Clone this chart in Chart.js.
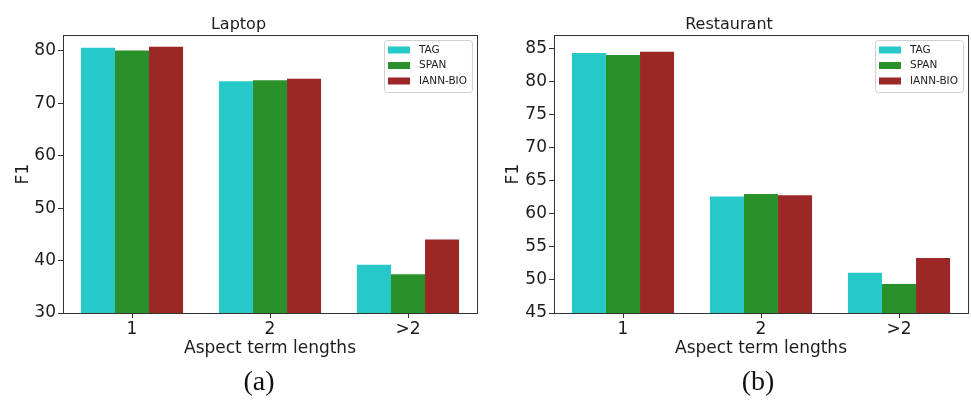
<!DOCTYPE html>
<html>
<head>
<meta charset="utf-8">
<script src="https://cdn.jsdelivr.net/npm/chart.js@4.4.0/dist/chart.umd.min.js"></script>
<style>
  html, body { margin: 0; padding: 0; background: #fff; }
  #wrap { position: relative; width: 971px; height: 400px; overflow: hidden; }
  .panel { position: absolute; top: 0; height: 400px; }
  .caption {
    position: absolute; top: 365px; line-height: 32px;
    font-family: "Liberation Serif", "Times New Roman", serif;
    font-size: 28px; color: #111; transform: translateX(-50%);
  }
</style>
</head>
<body>
<div id="wrap">
  <div class="panel" style="left:0;width:490px"><canvas id="laptopChart"></canvas></div>
  <div class="panel" style="left:490px;width:481px"><canvas id="restChart"></canvas></div>
  <div class="caption" style="left:259px">(a)</div>
  <div class="caption" style="left:758px">(b)</div>
</div>
<script>
// DATA
const categories = ['1', '2', '>2'];
const seriesNames = ['TAG', 'SPAN', 'IANN-BIO'];
const seriesColors = ['#27c8c8', '#29902a', '#9c2727'];

const laptopTag = [80.6, 74.2, 39.2];
const laptopSpan = [80.1, 74.4, 37.4];
const laptopIann = [80.8, 74.7, 44.0];
const laptopTicks = [30, 40, 50, 60, 70, 80];

const restTag = [84.3, 62.6, 51.1];
const restSpan = [84.0, 63.0, 49.4];
const restIann = [84.5, 62.8, 53.3];
const restTicks = [45, 50, 55, 60, 65, 70, 75, 80, 85];

const FONT = '"DejaVu Sans", sans-serif';
const INK = '#1c1c1c';

// frame round the plot area (matplotlib spines)
const frame = {
  id: 'frame',
  afterDatasetsDraw(chart) {
    const { ctx, chartArea: a } = chart;
    ctx.save();
    ctx.strokeStyle = '#333';
    ctx.lineWidth = 1;
    ctx.strokeRect(Math.round(a.left) + 0.5, Math.round(a.top) + 0.5,
      Math.round(a.right - a.left), Math.round(a.bottom - a.top));
    ctx.restore();
  }
};

// legend box inside the plot, top right
const boxLegend = {
  id: 'boxLegend',
  afterDraw(chart) {
    const { ctx, chartArea } = chart;
    ctx.save();
    ctx.font = '10.5px ' + FONT;
    const labels = chart.data.datasets.map(d => d.label);
    const textW = Math.max(...labels.map(l => ctx.measureText(l).width));
    const w = 4 + 22 + 9 + textW + 5;
    const h = 52;
    const x = Math.round(chartArea.right - 5 - w);
    const y = Math.round(chartArea.top + 5);
    ctx.fillStyle = 'rgba(255,255,255,0.85)';
    ctx.strokeStyle = '#d0d0d0';
    ctx.beginPath();
    ctx.roundRect(x + 0.5, y + 0.5, w, h, 3);
    ctx.fill();
    ctx.stroke();
    chart.data.datasets.forEach((ds, i) => {
      const cy = y + 10 + i * 15.5;
      ctx.fillStyle = ds.backgroundColor;
      ctx.fillRect(x + 4, cy - 3.5, 22, 7);
      ctx.fillStyle = INK;
      ctx.textBaseline = 'middle';
      ctx.fillText(ds.label, x + 35, cy);
    });
    ctx.restore();
  }
};

function makeChart(id, title, values, yMin, yMax, ticks, axisWidth, padRight) {
  const ctx = document.getElementById(id).getContext('2d');
  return new Chart(ctx, {
    type: 'bar',
    data: {
      labels: categories,
      datasets: seriesNames.map((name, i) => ({
        label: name,
        data: values[i],
        backgroundColor: seriesColors[i],
        borderWidth: 0,
        categoryPercentage: 0.74,
        barPercentage: 1.0
      }))
    },
    options: {
      responsive: true,
      maintainAspectRatio: false,
      animation: false,
      layout: { padding: { left: 0, right: padRight, top: 0, bottom: 41 } },
      plugins: {
        legend: { display: false },
        tooltip: { enabled: false },
        title: {
          display: true,
          text: title,
          color: INK,
          font: { family: FONT, size: 16, weight: 'normal' },
          padding: { top: 15, bottom: 1 }
        }
      },
      scales: {
        x: {
          grid: { display: true, offset: false, drawOnChartArea: false, drawTicks: true, tickLength: 5, color: '#333' },
          border: { display: true, color: '#333' },
          ticks: { color: INK, font: { family: FONT, size: 17 }, padding: 1, maxRotation: 0 },
          title: {
            display: true, text: 'Aspect term lengths', color: INK,
            font: { family: FONT, size: 17 }, padding: { top: 0, bottom: 0 }
          },
          afterFit(scale) { scale.height = 46; }
        },
        y: {
          min: yMin,
          max: yMax,
          grid: { display: true, drawOnChartArea: false, drawTicks: true, tickLength: 5, color: '#333' },
          border: { display: true, color: '#333' },
          ticks: { color: INK, font: { family: FONT, size: 17 }, padding: 2 },
          title: {
            display: true, text: 'F1', color: INK,
            font: { family: FONT, size: 17 }, padding: { top: 13, bottom: 0 }
          },
          afterBuildTicks(scale) { scale.ticks = ticks.map(v => ({ value: v })); },
          afterFit(scale) { scale.width = axisWidth; }
        }
      }
    },
    plugins: [frame, boxLegend]
  });
}

makeChart('laptopChart', 'Laptop', [laptopTag, laptopSpan, laptopIann], 30, 83, laptopTicks, 63, 13);
makeChart('restChart', 'Restaurant', [restTag, restSpan, restIann], 45, 87, restTicks, 64, 3);
</script>
</body>
</html>
